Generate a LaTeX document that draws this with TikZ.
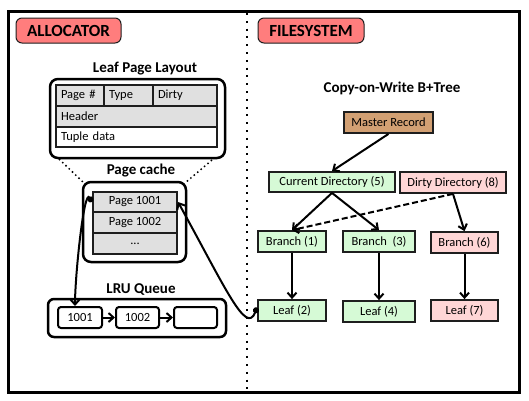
\documentclass[tikz,border=0pt]{standalone}
\usepackage{fontspec}
\setmainfont{Carlito}
\usetikzlibrary{arrows.meta}
\definecolor{hdr}{RGB}{255,125,125}
\definecolor{grn}{RGB}{214,250,214}
\definecolor{pnk}{RGB}{255,214,214}
\definecolor{tan}{RGB}{210,160,115}
\definecolor{cellgray}{RGB}{224,224,224}
\definecolor{edge}{RGB}{30,30,30}
\tikzset{
  boxtxt/.style={font=\fontsize{12.5}{14}\selectfont},
  titletxt/.style={font=\bfseries\fontsize{15}{17}\selectfont, inner sep=0pt},
  header/.style={draw=edge, line width=1pt, fill=hdr, rounded corners=6pt,
    font=\bfseries\fontsize{17}{19}\selectfont, minimum height=25pt, inner sep=0pt},
  outerbox/.style={draw=black, line width=2.5pt, rounded corners=8pt, inner sep=0pt},
  cell/.style={draw=edge, line width=2pt, boxtxt, inner sep=0pt, minimum height=21pt},
  lcell/.style={draw=edge, line width=2pt, boxtxt, inner xsep=5pt, inner ysep=0pt,
    minimum height=21pt, align=left},
  qbox/.style={draw=black, line width=2pt, rounded corners=3pt, boxtxt, inner sep=0pt,
    minimum height=21pt},
  tree/.style={draw=edge, line width=1.8pt, boxtxt, inner sep=0pt, minimum height=21pt},
  link/.style={line width=2pt, -{Straight Barb[length=5pt,width=9pt,line width=2pt]}},
}
\begin{document}
\begin{tikzpicture}[x=1pt,y=-1pt]
\useasboundingbox (0,0) rectangle (529,400);
% frame
\draw[line width=3pt] (8,11) rectangle (519,392);
\coordinate (dtop) at (247,13);
\coordinate (dbot) at (247,392);
\draw[line width=2pt, dash pattern=on 2pt off 5.8pt] (dtop) -- (dbot);
% headers
\node[header, minimum width=105pt] (alloc) at (68.5,30.5) {ALLOCATOR};
\node[header, minimum width=106pt] (fs) at (311,30.5) {FILESYSTEM};
% Leaf page layout
\node[titletxt] (tlayout) at (145,69) {Leaf Page Layout};
\node[outerbox, minimum width=175pt, minimum height=79pt] (layout) at (137.5,118.5) {};
\node[lcell, fill=cellgray, text width=38pt] (pnum) at (80,95.5) {Page \#};
\node[lcell, fill=cellgray, text width=39pt] (ptype) at (128.5,95.5) {Type};
\node[lcell, fill=cellgray, text width=54pt] (pdirty) at (185,95.5) {Dirty};
\node[lcell, fill=cellgray, text width=151pt] (phead) at (136.5,116.5) {Header};
\node[lcell, fill=white, text width=151pt, minimum height=20pt] (ptuple) at (136.5,137) {Tuple data};
% Page cache
\node[titletxt] (tcache) at (141,171) {Page cache};
\node[outerbox, minimum width=103pt, minimum height=80pt] (cache) at (134.5,222) {};
\node[cell, fill=cellgray, minimum width=84pt, minimum height=20pt] (c1) at (135,202) {Page 1001};
\node[cell, fill=cellgray, minimum width=84pt] (c2) at (135,222.5) {Page 1002};
\node[cell, fill=cellgray, minimum width=84pt] (c3) at (135,243.5) {...};
% dotted zoom lines
\coordinate (lz1) at (59,159);
\coordinate (lz2) at (84,183);
\coordinate (rz1) at (212,160);
\coordinate (rz2) at (185,183);
\draw[line width=1.5pt, dash pattern=on 1.5pt off 3pt] (lz1) -- (lz2);
\draw[line width=1.5pt, dash pattern=on 1.5pt off 3pt] (rz1) -- (rz2);
% LRU queue
\node[titletxt] (tlru) at (141,290) {LRU Queue};
\node[outerbox, rounded corners=6pt, minimum width=178pt, minimum height=38pt] (lru) at (137,318) {};
\node[qbox, minimum width=44pt] (q1) at (80,317.5) {1001};
\node[qbox, minimum width=43pt] (q2) at (137.5,317.5) {1002};
\node[qbox, minimum width=43pt] (q3) at (195.5,317.5) {};
\draw[link] (q1) -- (q2);
\draw[link] (q2) -- (q3);
% B+tree
\node[titletxt] (ttree) at (392,88) {Copy-on-Write B+Tree};
\node[tree, fill=tan, minimum width=89pt] (master) at (388.5,122.5) {Master Record};
\node[tree, fill=grn, minimum width=126pt, minimum height=20pt] (cur) at (332,182) {Current Directory (5)};
\node[tree, fill=pnk, minimum width=106pt] (dirty) at (453,182.5) {Dirty Directory (8)};
\node[tree, fill=grn, minimum width=68pt] (b1) at (292,241.5) {Branch (1)};
\node[tree, fill=grn, minimum width=72pt] (b3) at (379,241.5) {Branch\ \ (3)};
\node[tree, fill=pnk, minimum width=67pt] (b6) at (464.5,242.5) {Branch (6)};
\node[tree, fill=grn, minimum width=68pt] (l2) at (292,310.5) {Leaf (2)};
\node[tree, fill=grn, minimum width=72pt] (l4) at (379,311.5) {Leaf (4)};
\node[tree, fill=pnk, minimum width=67pt] (l7) at (464.5,310.5) {Leaf (7)};
\draw[link] (master.south) -- (cur.north);
\draw[link] (cur.south) -- (b1.north);
\draw[link] (cur.south) -- (b3.north);
\draw[link, dashed, dash pattern=on 6pt off 3pt] (dirty.south) -- (b1.north);
\draw[link] (dirty.south) -- (b6.north);
\draw[link] (b1) -- (l2);
\draw[link] (b3) -- (l4);
\draw[link] (b6) -- (l7);
% cross connectors
\draw[line width=2pt, {Circle[length=6pt]}-{Straight Barb[length=5pt,width=9pt,line width=2pt]}]
  (c1.west) .. controls +(-8,-14) and +(0,-30) .. ([xshift=-5pt]q1.north);
\draw[line width=2pt, {Circle[length=6pt]}-{Straight Barb[length=5pt,width=9pt,line width=2pt]}]
  ([yshift=3pt]l2.west) .. controls +(-11,28) and +(48,87) .. (c1.east);
\end{tikzpicture}
\end{document}
